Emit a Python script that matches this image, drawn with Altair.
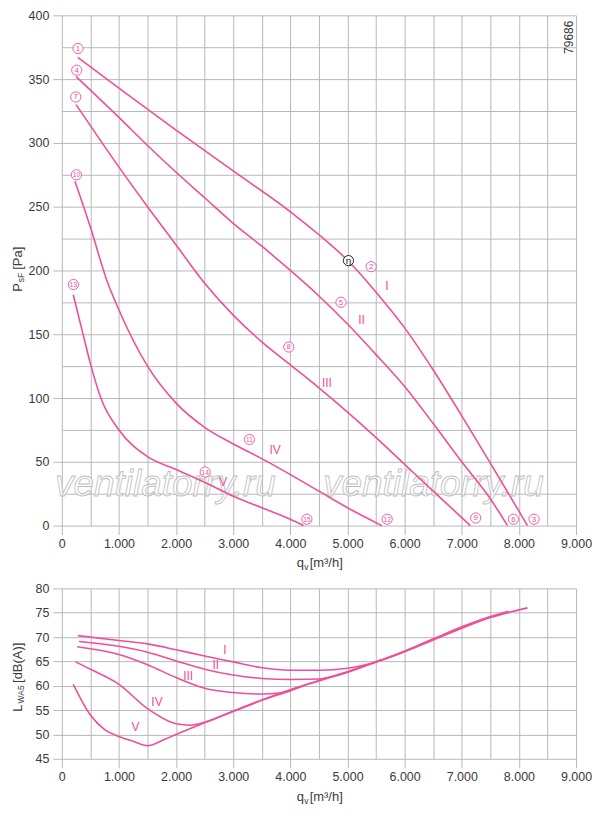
import altair as alt
import pandas as pd

# ---------------- data ----------------
# Pressure curves P_sF [Pa] vs q_v [m3/h]
I_q = [280, 1000, 2000, 3000, 4000, 4500, 5000, 5500, 6000, 6500, 7000, 7500, 8150]
I_p = [367, 343, 310, 278, 246, 228, 208, 183, 155, 122, 86, 49, 0]
II_q = [250, 1000, 1500, 2000, 2500, 3000, 3500, 4000, 4500, 5000, 5500, 6000, 6500, 7000, 7500, 7800]
II_p = [352, 320, 298, 277, 257, 237, 219, 200, 180, 158, 134, 109, 80, 50, 21, 0]
III_q = [250, 1000, 1500, 2000, 2500, 3000, 3500, 4000, 4500, 5000, 5500, 6000, 6500, 7150]
III_p = [330, 281, 250, 220, 190, 165, 144, 126, 108, 89, 69, 48, 27, 0]
IV_q = [230, 500, 790, 1000, 1500, 2000, 2500, 3000, 3500, 4000, 4500, 5000, 5600]
IV_p = [270, 234, 192, 169, 125, 96, 77, 64, 52.5, 40, 27, 14, 0]
V_q = [200, 350, 500, 700, 1000, 1500, 2000, 2500, 3000, 3500, 4000, 4230]
V_p = [181, 154, 127, 98, 75, 54, 44, 34, 23, 14, 5, 0]

# Sound power L_WA5 [dB(A)] vs q_v
LI_q = [280, 1000, 1500, 2000, 2500, 3000, 3500, 4000, 4500, 5000, 5500, 6000, 6500, 7000, 7500, 8150]
LI_l = [70.3, 69.3, 68.6, 67.4, 66.1, 64.9, 63.7, 63.2, 63.2, 63.6, 64.9, 67.0, 69.4, 71.8, 74.0, 76.0]
LII_q = [300, 1000, 1500, 2000, 2500, 3000, 3500, 4000, 4500, 5000, 5500, 6000, 6500, 7000, 7500, 7820]
LII_l = [69.1, 68.1, 66.9, 65.1, 63.4, 62.2, 61.5, 61.3, 61.4, 62.9, 64.9, 67.1, 69.6, 72.1, 74.2, 75.3]
LIII_q = [270, 1000, 1500, 2000, 2500, 3000, 3500, 3800, 4200, 4500, 5000, 5500, 6000, 6500, 7150]
LIII_l = [68.0, 66.4, 64.3, 61.7, 59.5, 58.6, 58.3, 58.5, 59.9, 61.1, 62.8, 64.9, 67.1, 69.6, 72.6]
LIV_q = [240, 500, 1000, 1500, 2000, 2250, 2500, 3000, 3500, 4000, 4500, 5000, 5600]
LIV_l = [64.9, 63.4, 60.3, 55.3, 52.2, 51.9, 52.5, 54.8, 57.1, 59.2, 61.0, 62.8, 65.4]
LV_q = [200, 500, 750, 1000, 1250, 1500, 1800, 2000, 2500, 3000, 3500, 4000, 4230]
LV_l = [60.3, 54.0, 51.0, 49.6, 48.6, 47.7, 49.0, 50.0, 52.4, 54.7, 57.0, 59.0, 60.0]

# circled point numbers on the pressure chart
num_text = ["1", "2", "3", "4", "5", "6", "7", "8", "9", "10", "11", "12", "13", "14", "15"]
num_q = [284, 5414, 8265, 261, 4886, 7904, 244, 3972, 7243, 255, 3284, 5694, 203, 2509, 4289]
num_p = [374, 203, 5, 357, 175, 5, 336, 140, 6, 275, 67.5, 5, 189, 42, 5]

roman = ["I", "II", "III", "IV", "V"]
rom_q_top = [5690, 5246, 4640, 3732, 2826]
rom_p_top = [188, 161, 112, 59, 34]
rom_q_bot = [2854, 2694, 2212, 1666, 1288]
rom_l_bot = [67.4, 64.2, 62.1, 56.7, 51.5]

eta_q = [5017]
eta_p = [207.7]

x_ticks = list(range(0, 9001, 500))
p_ticks = list(range(0, 401, 25))
l_ticks = list(range(45, 81, 5))

# ---------------- styling ----------------
PINK = "#ef4f98"
GRID = "#b8b8b8"
TXT = "#3a3a3a"
FONT = "Liberation Sans"
W, HT, HB = 516, 512, 171


def frame(qs, vs, names, col):
    rows = []
    for q, v, n in zip(qs, vs, names):
        for a, b in zip(q, v):
            rows.append({"q": a, col: b, "curve": n})
    return pd.DataFrame(rows)


top_df = frame([I_q, II_q, III_q, IV_q, V_q], [I_p, II_p, III_p, IV_p, V_p], roman, "p")
bot_df = frame([LI_q, LII_q, LIII_q, LIV_q, LV_q], [LI_l, LII_l, LIII_l, LIV_l, LV_l], roman, "l")
num_df = pd.DataFrame({"q": num_q, "p": num_p, "t": num_text})
num_df["fs"] = [8 if len(t) == 1 else 6.5 for t in num_text]
romt_df = pd.DataFrame({"q": rom_q_top, "p": rom_p_top, "t": roman})
romb_df = pd.DataFrame({"q": rom_q_bot, "l": rom_l_bot, "t": roman})
eta_df = pd.DataFrame({"q": eta_q, "p": eta_p, "t": ["η"]})

x_label_expr = "datum.value % 1000 === 0 ? replace(format(datum.value, ','), ',', '.') : ''"


def x_enc():
    return alt.X(
        "q:Q",
        scale=alt.Scale(domain=[0, 9000], nice=False),
        axis=alt.Axis(
            values=x_ticks, labelExpr=x_label_expr, title=None, grid=True,
            gridColor=GRID, gridWidth=1, domain=False, tickColor=GRID, tickSize=9,
            tickOpacity={"condition": {"test": "datum.value % 1000 === 0", "value": 1}, "value": 0},
            labelFont=FONT, labelFontSize=12.5, labelColor=TXT, labelPadding=3,
            labelFlush=False, labelOverlap=False,
        ),
    )


def y_enc(field, domain, values, mod):
    return alt.Y(
        field,
        scale=alt.Scale(domain=domain, nice=False, zero=False),
        axis=alt.Axis(
            values=values,
            labelExpr=f"datum.value % {mod} === 0 ? datum.label : ''",
            title=None, grid=True, gridColor=GRID, gridWidth=1, domain=False,
            tickColor=GRID, tickSize=9,
            tickOpacity={"condition": {"test": f"datum.value % {mod} === 0", "value": 1}, "value": 0},
            labelFont=FONT, labelFontSize=12.5, labelColor=TXT, labelPadding=4,
            labelFlush=False, labelOverlap=False,
        ),
    )


def yt():
    return y_enc("p:Q", [0, 400], p_ticks, 50)


def yb():
    return y_enc("l:Q", [45, 80], l_ticks, 5)


def label(txt, x, y, size=13, angle=0, align="center", color=TXT, dy=0, **kw):
    return alt.Chart(pd.DataFrame({"t": [txt]})).mark_text(
        font=FONT, fontSize=size, angle=angle, align=align, baseline="middle",
        color=color, dy=dy, **kw
    ).encode(text="t:N", x=alt.value(x), y=alt.value(y))


def x_title(h):
    x0 = 0.5014 * W - 23
    return [
        label("q", x0, h + 38, align="left"),
        label("v", x0 + 7.5, h + 42, size=8.5, align="left"),
        label("[m³/h]", x0 + 13, h + 38, align="left"),
    ]


# ---------------- top chart ----------------
lines_top = alt.Chart(top_df).mark_line(color=PINK, strokeWidth=1.6, interpolate="monotone").encode(
    x=x_enc(), y=yt(), detail="curve:N"
)
num_circ = alt.Chart(num_df).mark_point(shape="circle", filled=True, fill="white", stroke=PINK,
                                         strokeWidth=0.9, size=105, opacity=1).encode(x=x_enc(), y=yt())
num_txt = alt.Chart(num_df).mark_text(color=PINK, font=FONT, baseline="middle", dy=0.5).encode(
    x=x_enc(), y=yt(), text="t:N", size=alt.Size("fs:Q", scale=None, legend=None)
)
roms_top = alt.Chart(romt_df).mark_text(color=PINK, fontSize=12, font=FONT).encode(
    x=x_enc(), y=yt(), text="t:N"
)
eta_pt = alt.Chart(eta_df).mark_point(shape="circle", filled=True, fill="white", stroke="#222",
                                       strokeWidth=1, size=105, opacity=1).encode(x=x_enc(), y=yt())
eta_tx = alt.Chart(eta_df).mark_text(color="#222", fontSize=10, font=FONT).encode(
    x=x_enc(), y=yt(), text="t:N"
)
wm_kw = dict(fontStyle="italic", fill="white", fillOpacity=0.55, stroke="#bcbcbc", strokeWidth=0.8)
wm1 = label("ventilatorry.ru", 0.2015 * W, 0.92 * HT, size=37, **wm_kw)
wm2 = label("ventilatorry.ru", 0.7226 * W, 0.92 * HT, size=37, **wm_kw)
code = label("79686", 0.9866 * W, 0.043 * HT, size=12, angle=270)

pb = 0.5416 * HT
ytitle_top = [
    label("P", -44, pb, angle=270, align="left"),
    label("sF", -40.5, pb - 9.5, size=8.5, angle=270, align="left"),
    label("[Pa]", -44, pb - 22, angle=270, align="left"),
]

top = alt.layer(
    wm1, wm2, lines_top, eta_pt, eta_tx, num_circ, num_txt, roms_top, code,
    *ytitle_top, *x_title(HT)
).properties(width=W, height=HT)

# ---------------- bottom chart ----------------
lines_bot = alt.Chart(bot_df).mark_line(color=PINK, strokeWidth=1.6, interpolate="monotone").encode(
    x=x_enc(), y=yb(), detail="curve:N"
)
roms_bot = alt.Chart(romb_df).mark_text(color=PINK, fontSize=12, font=FONT).encode(
    x=x_enc(), y=yb(), text="t:N"
)
lb = 0.7246 * HB
ytitle_bot = [
    label("L", -44, lb, angle=270, align="left"),
    label("WA5", -40.5, lb - 8.5, size=8.5, angle=270, align="left"),
    label("[dB(A)]", -44, lb - 29, angle=270, align="left"),
]
bottom = alt.layer(lines_bot, roms_bot, *ytitle_bot, *x_title(HB)).properties(width=W, height=HB)

chart = alt.vconcat(top, bottom, spacing=10).properties(
    padding={"left": 4, "top": 0, "right": 0, "bottom": 0}
).configure_view(stroke=None)

chart.save("out.html", embed_options={"renderer": "svg", "actions": False})
